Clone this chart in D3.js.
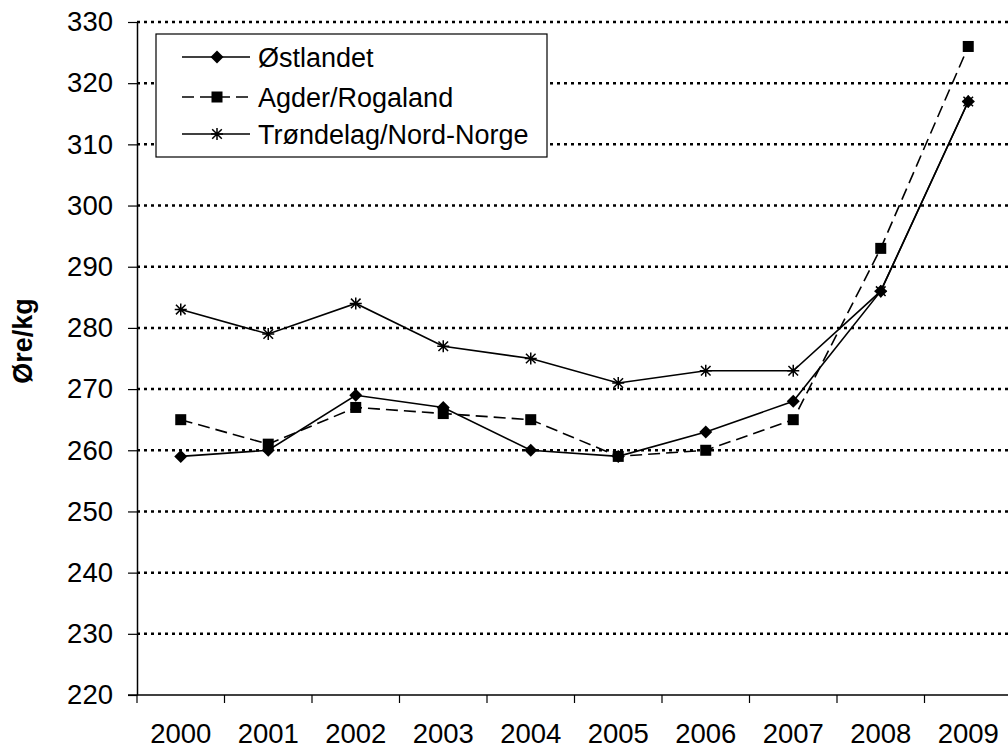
<!DOCTYPE html>
<html>
<head>
<meta charset="utf-8">
<script src="https://cdn.jsdelivr.net/npm/d3@7"></script>
<style>
  body { margin: 0; background: #fff; }
  svg { display: block; font-family: "Liberation Sans", Arial, sans-serif; }
</style>
</head>
<body>
<div id="chart"></div>
<script>
const years = ['2000', '2001', '2002', '2003', '2004', '2005', '2006', '2007', '2008', '2009'];
const ostlandet = [259, 260, 269, 267, 260, 259, 263, 268, 286, 317];
const agder = [265, 261, 267, 266, 265, 259, 260, 265, 293, 326];
const trondelag = [283, 279, 284, 277, 275, 271, 273, 273, 286, 317];
const seriesNames = ['Østlandet', 'Agder/Rogaland', 'Trøndelag/Nord-Norge'];
const yTicks = [220, 230, 240, 250, 260, 270, 280, 290, 300, 310, 320, 330];

const width = 1008;
const height = 749;
const plot = { left: 137, right: 1012, top: 22, bottom: 695 };

const series = [
  { name: seriesNames[0], values: ostlandet, marker: 'diamond', dash: null },
  { name: seriesNames[1], values: agder, marker: 'square', dash: '12,6' },
  { name: seriesNames[2], values: trondelag, marker: 'star', dash: null },
];

const svg = d3.select('#chart').append('svg')
  .attr('width', width).attr('height', height);

const x = d3.scaleBand().domain(years).range([plot.left, plot.right]).padding(0);
const y = d3.scaleLinear().domain([220, 330]).range([plot.bottom, plot.top]);
const cx = (i) => x(years[i]) + x.bandwidth() / 2;

// gridlines
svg.append('g')
  .selectAll('line')
  .data(yTicks.filter((d) => d > 220))
  .join('line')
  .attr('x1', plot.left).attr('x2', plot.right)
  .attr('y1', (d) => y(d)).attr('y2', (d) => y(d))
  .attr('stroke', '#000')
  .attr('stroke-width', 2.5)
  .attr('stroke-dasharray', '3,4');

// y axis
const yAxis = svg.append('g')
  .attr('transform', `translate(${plot.left},0)`)
  .call(d3.axisLeft(y).tickValues(yTicks).tickSize(9).tickSizeOuter(0).tickPadding(15));
yAxis.select('.domain').attr('stroke-width', 1.5);
yAxis.selectAll('.tick line').attr('stroke-width', 1.2);
yAxis.selectAll('text').attr('font-size', 27.5).attr('fill', '#000')
  .attr('font-family', '"Liberation Sans", Arial, sans-serif');

// x axis
const xg = svg.append('g');
xg.append('line')
  .attr('x1', plot.left - 9).attr('x2', plot.right)
  .attr('y1', plot.bottom).attr('y2', plot.bottom)
  .attr('stroke', '#000').attr('stroke-width', 1.5);
xg.selectAll('.xt')
  .data(years)
  .join('line')
  .attr('class', 'xt')
  .attr('x1', (d) => x(d)).attr('x2', (d) => x(d))
  .attr('y1', plot.bottom).attr('y2', plot.bottom + 8)
  .attr('stroke', '#000').attr('stroke-width', 1.2);
xg.selectAll('text')
  .data(years)
  .join('text')
  .attr('x', (d) => x(d) + x.bandwidth() / 2)
  .attr('y', 743)
  .attr('text-anchor', 'middle')
  .attr('font-size', 27.5)
  .text((d) => d);

// y title
svg.append('text')
  .attr('transform', 'translate(32,341) rotate(-90)')
  .attr('text-anchor', 'middle')
  .attr('font-size', 27)
  .attr('font-weight', 'bold')
  .text('Øre/kg');

function drawMarker(g, type, px, py) {
  if (type === 'diamond') {
    g.append('path')
      .attr('d', `M${px},${py - 6.5}L${px + 6.5},${py}L${px},${py + 6.5}L${px - 6.5},${py}Z`)
      .attr('fill', '#000');
  } else if (type === 'square') {
    g.append('rect')
      .attr('x', px - 5.5).attr('y', py - 5.5)
      .attr('width', 11).attr('height', 11)
      .attr('fill', '#000');
  } else {
    const r = 6;
    const p = `M${px - r},${py}L${px + r},${py}M${px},${py - r}L${px},${py + r}` +
      `M${px - r * 0.8},${py - r * 0.8}L${px + r * 0.8},${py + r * 0.8}` +
      `M${px - r * 0.8},${py + r * 0.8}L${px + r * 0.8},${py - r * 0.8}`;
    g.append('path').attr('d', p).attr('stroke', '#000').attr('stroke-width', 1.5);
  }
}

const line = d3.line()
  .x((d, i) => cx(i))
  .y((d) => y(d));

series.forEach((s) => {
  const g = svg.append('g');
  g.append('path')
    .datum(s.values)
    .attr('d', line)
    .attr('fill', 'none')
    .attr('stroke', '#000')
    .attr('stroke-width', 1.6)
    .attr('stroke-dasharray', s.dash);
  s.values.forEach((v, i) => drawMarker(g, s.marker, cx(i), y(v)));
});

// legend
const legend = svg.append('g');
legend.append('rect')
  .attr('x', 156).attr('y', 34)
  .attr('width', 391).attr('height', 123)
  .attr('fill', '#fff').attr('stroke', '#000').attr('stroke-width', 1.2);
const rowY = [57, 97, 134];
series.forEach((s, i) => {
  const g = legend.append('g');
  g.append('line')
    .attr('x1', 182).attr('x2', 250)
    .attr('y1', rowY[i]).attr('y2', rowY[i])
    .attr('stroke', '#000').attr('stroke-width', 1.6)
    .attr('stroke-dasharray', s.dash);
  drawMarker(g, s.marker, 217, rowY[i]);
  g.append('text')
    .attr('x', 258).attr('y', rowY[i] + 9.5)
    .attr('font-size', 27)
    .text(s.name);
});
</script>
</body>
</html>
